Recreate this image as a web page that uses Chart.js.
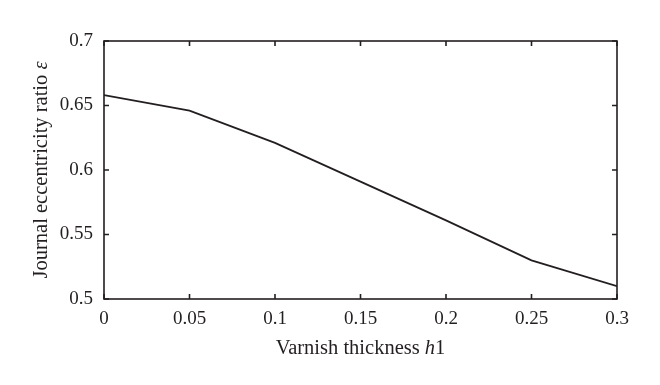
<!DOCTYPE html>
<html>
<head>
<meta charset="utf-8">
<script src="https://cdn.jsdelivr.net/npm/chart.js@4.4.1/dist/chart.umd.min.js"></script>
<style>
html,body{margin:0;padding:0;background:#fff;}
#wrap{width:660px;height:385px;position:relative;}
</style>
</head>
<body>
<div id="wrap"><canvas id="c" width="660" height="385"></canvas></div>
<script>
const thickness = [0, 0.05, 0.1, 0.15, 0.2, 0.25, 0.3];
const eccentricity = [0.658, 0.646, 0.621, 0.591, 0.561, 0.530, 0.510];
const xTicks = [0, 0.05, 0.1, 0.15, 0.2, 0.25, 0.3];
const yTicks = [0.5, 0.55, 0.6, 0.65, 0.7];

const INK = '#231f20';
const FONT = '"Liberation Serif", "DejaVu Serif", serif';

const framePlugin = {
  id: 'frame',
  afterDraw(chart) {
    const ctx = chart.ctx;
    const a = chart.chartArea;
    const xs = chart.scales.x, ys = chart.scales.y;
    ctx.save();
    ctx.strokeStyle = INK;
    ctx.lineWidth = 1.6;
    ctx.strokeRect(a.left, a.top, a.right - a.left, a.bottom - a.top);
    const L = 5;
    ctx.beginPath();
    xTicks.forEach(v => {
      const px = xs.getPixelForValue(v);
      ctx.moveTo(px, a.bottom); ctx.lineTo(px, a.bottom - L);
      ctx.moveTo(px, a.top); ctx.lineTo(px, a.top + L);
    });
    yTicks.forEach(v => {
      const py = ys.getPixelForValue(v);
      ctx.moveTo(a.left, py); ctx.lineTo(a.left + L, py);
      ctx.moveTo(a.right, py); ctx.lineTo(a.right - L, py);
    });
    ctx.stroke();

    // axis titles with italic symbols
    ctx.fillStyle = INK;
    ctx.textBaseline = 'middle';
    function mixed(parts, size) {
      let w = 0;
      parts.forEach(p => { ctx.font = (p[1] ? 'italic ' : '') + size + 'px ' + FONT; w += ctx.measureText(p[0]).width; });
      return w;
    }
    function drawMixed(parts, size, x0, y0) {
      let x = x0;
      ctx.textAlign = 'left';
      parts.forEach(p => { ctx.font = (p[1] ? 'italic ' : '') + size + 'px ' + FONT; ctx.fillText(p[0], x, y0); x += ctx.measureText(p[0]).width; });
    }
    const TS = 20.5;
    const xt = [['Varnish thickness ', false], ['h', true], ['1', false]];
    const wx = mixed(xt, TS);
    drawMixed(xt, TS, (a.left + a.right) / 2 - wx / 2, 349);

    const yt = [['Journal eccentricity ratio ', false], ['\u03B5', true]];
    const wy = mixed(yt, TS);
    ctx.save();
    ctx.translate(42, (a.top + a.bottom) / 2);
    ctx.rotate(-Math.PI / 2);
    drawMixed(yt, TS, -wy / 2, 0);
    ctx.restore();
    ctx.restore();
  }
};

new Chart(document.getElementById('c'), {
  type: 'line',
  data: {
    datasets: [{
      data: thickness.map((t, i) => ({x: t, y: eccentricity[i]})),
      borderColor: INK,
      borderWidth: 1.8,
      pointRadius: 0,
      tension: 0,
      fill: false
    }]
  },
  options: {
    responsive: false,
    animation: false,
    devicePixelRatio: 1,
    layout: { padding: { top: 41, right: 43, left: 0, bottom: 0 } },
    plugins: { legend: { display: false }, tooltip: { enabled: false } },
    scales: {
      x: {
        type: 'linear', min: 0, max: 0.3,
        afterBuildTicks(s) { s.ticks = xTicks.map(v => ({value: v})); },
        afterFit(s) { s.height = 86; },
        grid: { display: false, drawTicks: false },
        border: { display: false },
        ticks: { color: INK, font: { family: FONT, size: 19 }, padding: 9, maxRotation: 0, autoSkip: false,
          callback: v => String(+v.toFixed(2)) }
      },
      y: {
        type: 'linear', min: 0.5, max: 0.7,
        afterBuildTicks(s) { s.ticks = yTicks.map(v => ({value: v})); },
        afterFit(s) { s.width = 104; },
        grid: { display: false, drawTicks: false },
        border: { display: false },
        ticks: { color: INK, font: { family: FONT, size: 19 }, padding: 11, autoSkip: false,
          callback: v => String(+v.toFixed(2)) }
      }
    }
  },
  plugins: [framePlugin]
});
</script>
</body>
</html>
